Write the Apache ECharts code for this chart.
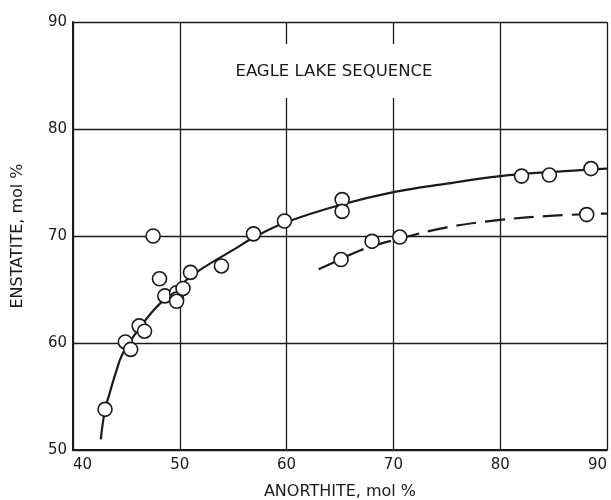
<!DOCTYPE html>
<html>
<head>
<meta charset="utf-8">
<script src="https://cdn.jsdelivr.net/npm/echarts@6/dist/echarts.min.js"></script>
<style>
html,body{margin:0;padding:0;background:#fff;}
#chart{width:611px;height:500px;}
</style>
</head>
<body>
<div id="chart"></div>
<script>
// Data
const pointsX = [43.0, 44.9, 45.4, 46.2, 46.7, 47.5, 48.1, 48.6, 49.7, 49.7, 49.7, 50.3, 51.0, 53.9, 56.9, 59.8, 65.1, 65.2, 65.2, 68.0, 70.6, 82.0, 84.6, 88.5, 88.1];
const pointsY = [53.8, 60.1, 59.4, 61.6, 61.1, 70.0, 66.0, 64.4, 64.7, 64.1, 63.9, 65.1, 66.6, 67.2, 70.2, 71.4, 67.8, 73.4, 72.3, 69.5, 69.9, 75.6, 75.7, 76.3, 72.0];

const solidX = [42.6, 43.0, 43.4, 44.0, 44.6, 45.8, 47.4, 48.9, 50.4, 52.0, 55.0, 57.0, 60.0, 65.0, 70.0, 75.0, 80.0, 85.0, 90.0];
const solidY = [51.0, 53.8, 55.2, 57.2, 58.9, 60.8, 62.9, 64.4, 65.7, 66.9, 68.7, 69.9, 71.3, 72.9, 74.1, 74.9, 75.6, 76.0, 76.3];

const dashX = [63.0, 65.0, 67.0, 70.0, 75.0, 80.0, 85.0, 90.0];
const dashY = [66.9, 67.8, 68.7, 69.6, 70.8, 71.5, 71.9, 72.1];

const xTicks = [40, 50, 60, 70, 80, 90];
const yTicks = [50, 60, 70, 80, 90];

const titleText = 'EAGLE LAKE SEQUENCE';
const xName = 'ANORTHITE, mol %';
const yName = 'ENSTATITE, mol %';

const zip = (a, b) => a.map((v, i) => [v, b[i]]);
const ink = '#1a1a1a';
const font = 'DejaVu Sans, sans-serif';

const chart = echarts.init(document.getElementById('chart'));
chart.setOption({
  animation: false,
  backgroundColor: '#fff',
  grid: {left: 73, right: 4, top: 22, bottom: 50, containLabel: false, outerBoundsMode: 'none'},
  xAxis: {
    type: 'value', min: xTicks[0], max: xTicks[xTicks.length - 1], interval: 10,
    name: xName, nameLocation: 'middle', nameGap: 34,
    nameTextStyle: {color: ink, fontSize: 16, fontFamily: font},
    axisLine: {show: true, lineStyle: {color: ink, width: 2}},
    axisTick: {show: false},
    axisLabel: {color: ink, fontSize: 15, fontFamily: font, margin: 8,
      alignMinLabel: 'left', alignMaxLabel: 'right'},
    splitLine: {show: true, lineStyle: {color: ink, width: 1.3}}
  },
  yAxis: {
    type: 'value', min: yTicks[0], max: yTicks[yTicks.length - 1], interval: 10,
    name: yName, nameLocation: 'middle', nameGap: 47,
    nameTextStyle: {color: ink, fontSize: 16, fontFamily: font},
    axisLine: {show: true, lineStyle: {color: ink, width: 2}},
    axisTick: {show: false},
    axisLabel: {color: ink, fontSize: 15, fontFamily: font, margin: 6},
    splitLine: {show: true, lineStyle: {color: ink, width: 1.3}}
  },
  graphic: [
    {type: 'rect', z: 1, shape: {x: 226, y: 44, width: 226, height: 54}, style: {fill: '#fff'}},
    {type: 'text', z: 2, x: 334, y: 72, style: {text: titleText, fill: ink, fontSize: 16.5, fontFamily: font, align: 'center', verticalAlign: 'middle'}}
  ],
  series: [
    {type: 'line', data: zip(solidX, solidY), smooth: 0.4, symbol: 'none', z: 3,
      lineStyle: {color: ink, width: 2.2}},
    {type: 'line', data: zip(dashX, dashY), smooth: 0.4, symbol: 'none', z: 3,
      lineStyle: {color: ink, width: 2.2, type: [20, 9]}},
    {type: 'scatter', data: zip(pointsX, pointsY), symbol: 'circle', symbolSize: 14, z: 4,
      itemStyle: {color: '#fff', borderColor: ink, borderWidth: 1.6, opacity: 1}}
  ]
});
</script>
</body>
</html>
